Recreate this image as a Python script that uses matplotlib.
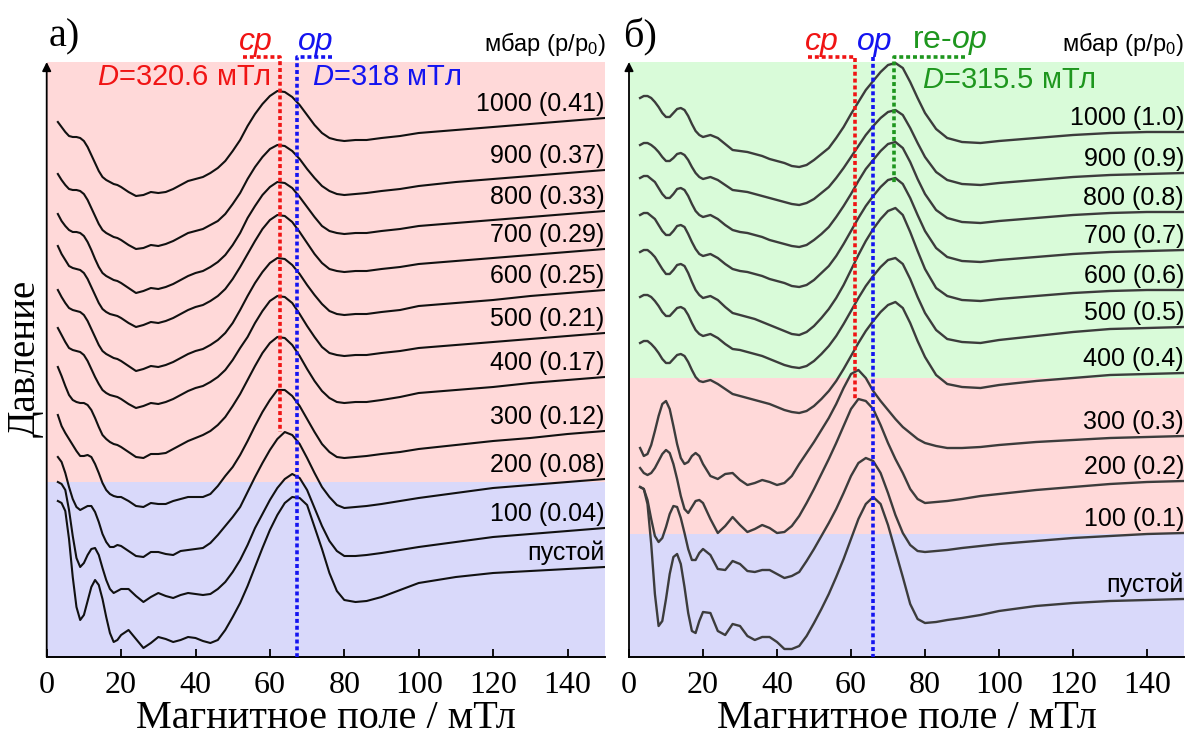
import matplotlib
matplotlib.use('Agg')
import matplotlib.pyplot as plt

SERIF = 'Liberation Serif'
SANS = 'Liberation Sans'
plt.rcParams['font.family'] = SANS
plt.rcParams['mathtext.fontset'] = 'custom'
plt.rcParams['mathtext.rm'] = SANS
plt.rcParams['mathtext.it'] = SANS + ':italic'

PINK_BG = '#ffd9d9'
BLUE_BG = '#d9d9fa'
GREEN_BG = '#d9fbd9'
RED = '#f01414'
BLUE = '#1414f0'
GREEN = '#1e961e'

W, H = 1186, 736

# magnetic field grid (mT), shared by every spectrum
field = [3, 4, 5, 6, 7, 8, 9, 10, 11, 12, 13, 14, 15, 16, 17, 18, 19, 20,
         22, 24, 26, 28, 30, 32, 34, 36, 38, 40, 42, 44, 46, 48, 50, 52, 54,
         56, 58, 60, 62, 64, 66, 68, 70, 72, 74, 76, 78,
         80, 83, 86, 90, 95, 100, 110, 120, 130, 140, 150]

# ---- panel a ----
labels_a = ['1000 (0.41)', '900 (0.37)', '800 (0.33)', '700 (0.29)', '600 (0.25)',
            '500 (0.21)', '400 (0.17)', '300 (0.12)', '200 (0.08)', '100 (0.04)', 'пустой']
offsets_a = [539, 487, 446, 408, 367, 324, 280, 226, 178, 129, 90]

a_1000 = [-4, -9, -14, -18, -19, -19, -20, -23, -29, -37, -45, -53, -59, -62, -64, -66, -67, -69,
          -74, -78, -77, -74, -75, -74, -71, -67, -63, -61, -59, -55, -50, -43, -33, -22, -8,
          4, 14, 22, 27, 26, 21, 13, 3, -7, -15, -20, -22,
          -23, -22, -22, -20, -18, -15, -12, -9, -6, -3, 0]
a_900 = [-4, -10, -15, -19, -20, -20, -21, -24, -30, -38, -46, -54, -60, -63, -65, -67, -68, -70,
         -75, -79, -78, -75, -76, -74, -71, -67, -63, -61, -59, -55, -51, -44, -34, -23, -9,
         3, 13, 21, 25, 24, 19, 11, 1, -8, -16, -21, -24,
         -25, -24, -23, -21, -19, -16, -12, -9, -6, -3, 0]
a_800 = [-3, -10, -15, -19, -21, -21, -22, -25, -31, -39, -48, -56, -62, -65, -67, -69, -70, -72,
         -77, -82, -80, -77, -78, -76, -73, -69, -65, -62, -60, -56, -51, -44, -34, -22, -7,
         5, 16, 24, 29, 28, 23, 14, 4, -6, -15, -20, -22,
         -23, -22, -22, -20, -18, -15, -12, -9, -6, -3, 0]
a_700 = [3, -5, -11, -17, -19, -20, -21, -24, -30, -38, -46, -54, -60, -63, -65, -66, -67, -69,
         -74, -78, -76, -73, -74, -72, -69, -65, -61, -58, -56, -52, -47, -40, -30, -18, -5,
         8, 20, 29, 34, 33, 27, 17, 6, -5, -14, -20, -22,
         -23, -22, -22, -20, -18, -15, -12, -9, -6, -3, 0]
a_600 = [0, -7, -13, -18, -20, -21, -22, -25, -31, -39, -47, -55, -61, -64, -66, -68, -69, -71,
         -76, -81, -79, -76, -77, -75, -72, -68, -64, -61, -59, -55, -50, -43, -33, -20, -6,
         7, 18, 27, 32, 31, 25, 16, 5, -5, -14, -21, -24,
         -25, -24, -24, -22, -20, -16, -13, -10, -6, -3, 0]
a_500 = [5, -2, -9, -15, -17, -18, -19, -22, -28, -36, -44, -51, -57, -60, -62, -63, -64, -66,
         -71, -75, -73, -70, -71, -69, -66, -62, -58, -55, -53, -49, -44, -37, -27, -15, -4,
         10, 22, 32, 37, 36, 30, 19, 7, -4, -14, -20, -22,
         -23, -22, -22, -20, -18, -15, -12, -9, -6, -3, 0]
a_400 = [10, 1, -9, -18, -23, -25, -26, -26, -28, -33, -41, -50, -58, -62, -65, -67, -68, -70,
         -75, -80, -81, -77, -77, -76, -72, -68, -64, -61, -58, -54, -48, -40, -29, -17, -3,
         11, 24, 34, 40, 39, 32, 21, 8, -4, -14, -21, -25,
         -26, -25, -25, -23, -20, -16, -13, -10, -6, -3, 0]
a_300 = [16, 5, -2, -8, -14, -20, -25, -25, -24, -26, -33, -42, -52, -59, -63, -65, -66, -66,
         -70, -75, -76, -72, -73, -73, -70, -68, -66, -66, -66, -63, -55, -45, -36, -24, -10,
         5, 19, 31, 41, 41, 35, 25, 12, -1, -13, -21, -26,
         -27, -26, -25, -23, -21, -18, -14, -10, -7, -3, 0]
a_200 = [22, 17, 6, -8, -20, -28, -31, -29, -27, -27, -33, -43, -55, -63, -68, -68, -66, -67,
         -72, -77, -78, -73, -73, -75, -76, -72, -71, -70, -69, -64, -56, -47, -38, -28, -13,
         2, 16, 29, 40, 47, 44, 35, 21, 6, -8, -18, -26,
         -29, -28, -27, -25, -22, -19, -14, -9, -6, -3, 0]
a_100 = [46, 44, 38, 18, -8, -30, -39, -35, -27, -21, -20, -27, -40, -52, -61, -65, -63, -61,
         -61, -68, -74, -69, -65, -68, -70, -67, -65, -66, -67, -66, -61, -54, -44, -32, -17,
         0, 14, 28, 40, 49, 54, 50, 38, 20, 2, -13, -23,
         -28, -28, -27, -25, -22, -19, -14, -9, -6, -3, 0]
a_empty = [66, 64, 56, 28, -10, -40, -53, -48, -34, -20, -13, -18, -32, -50, -66, -75, -73, -68,
           -63, -72, -81, -76, -70, -72, -75, -73, -70, -71, -74, -76, -73, -63, -50, -36, -19,
           0, 19, 37, 52, 64, 70, 69, 62, 40, 18, -6, -24,
           -33, -35, -34, -30, -23, -16, -10, -6, -4, -2, 0]
spectra_a = [a_1000, a_900, a_800, a_700, a_600, a_500, a_400, a_300, a_200, a_100, a_empty]

# ---- panel b ----
labels_b = ['1000 (1.0)', '900 (0.9)', '800 (0.8)', '700 (0.7)', '600 (0.6)',
            '500 (0.5)', '400 (0.4)', '300 (0.3)', '200 (0.2)', '100 (0.1)', 'пустой']
offsets_b = [525, 484, 445, 407, 367, 330, 284, 221, 176, 124, 58]

b_1000 = [34, 36, 36, 34, 30, 25, 19, 15, 15, 19, 23, 24, 22, 16, 8, 1, -3, -5,
          -3, -6, -12, -18, -19, -20, -22, -24, -27, -29, -31, -34, -35, -33, -28, -22, -16,
          -6, 5, 18, 30, 42, 51, 60, 67, 69, 64, 50, 34,
          19, 3, -6, -10, -11, -9, -6, -3, -1, 0, 0]
b_900 = [28, 30, 30, 28, 25, 21, 16, 12, 12, 15, 19, 20, 18, 13, 6, 0, -4, -6,
         -4, -7, -12, -17, -18, -19, -21, -23, -25, -27, -29, -31, -32, -30, -26, -20, -14,
         -5, 5, 16, 27, 38, 47, 55, 61, 63, 58, 45, 30,
         16, 1, -7, -11, -12, -10, -7, -4, -2, -1, 0]
b_800 = [34, 36, 36, 33, 30, 24, 18, 14, 14, 18, 23, 24, 22, 16, 8, 1, -3, -5,
         -3, -7, -13, -18, -20, -21, -23, -25, -28, -30, -32, -34, -35, -33, -28, -22, -15,
         -5, 6, 18, 31, 43, 52, 61, 68, 70, 64, 50, 33,
         18, 2, -6, -10, -11, -9, -6, -3, -1, 0, 0]
b_700 = [35, 37, 37, 34, 31, 25, 19, 15, 15, 19, 24, 25, 23, 16, 8, 1, -4, -6,
         -4, -8, -14, -19, -21, -22, -24, -26, -29, -31, -33, -36, -37, -35, -30, -23, -16,
         -6, 6, 19, 32, 44, 54, 63, 70, 72, 66, 52, 35,
         19, 2, -7, -11, -12, -10, -7, -4, -2, -1, 0]
b_600 = [38, 40, 40, 37, 33, 27, 21, 16, 16, 20, 25, 26, 24, 17, 8, 0, -5, -8,
         -6, -10, -17, -23, -25, -27, -29, -32, -35, -38, -41, -44, -45, -42, -36, -28, -19,
         -8, 5, 20, 35, 49, 61, 71, 79, 82, 75, 58, 39,
         21, 2, -6, -10, -11, -9, -6, -3, -1, 0, 0]
b_500 = [30, 32, 32, 30, 26, 21, 15, 11, 11, 15, 19, 20, 18, 12, 4, -3, -7, -9,
         -7, -11, -17, -22, -23, -25, -27, -29, -32, -35, -38, -40, -41, -39, -34, -27, -19,
         -9, 3, 16, 29, 41, 51, 60, 67, 69, 63, 48, 30,
         14, -3, -12, -15, -16, -13, -9, -5, -2, -1, 0]
b_400 = [30, 32, 32, 29, 25, 20, 14, 10, 10, 14, 18, 19, 17, 11, 3, -4, -8, -9,
         -7, -11, -16, -21, -23, -25, -27, -29, -31, -34, -37, -39, -40, -38, -33, -26, -18,
         -8, 4, 17, 30, 42, 52, 61, 68, 71, 65, 50, 32,
         16, -2, -11, -14, -15, -12, -8, -5, -2, -1, 0]
b_300 = [-12, -20, -18, -9, 5, 20, 32, 35, 27, 10, -8, -22, -28, -26, -20, -17, -20, -28,
         -40, -43, -38, -37, -44, -49, -47, -44, -46, -49, -47, -40, -28, -17, -6, 6, 18,
         32, 48, 62, 66, 58, 45, 35, 26, 17, 9, 3, -3,
         -7, -10, -12, -12, -11, -9, -6, -4, -2, -1, 0]
b_200 = [13, 8, 6, 8, 13, 20, 27, 31, 28, 17, 2, -15, -28, -32, -26, -20, -19, -22,
         -38, -52, -45, -36, -44, -51, -48, -44, -47, -52, -51, -45, -35, -22, -8, 7, 22,
         38, 55, 72, 82, 80, 72, 56, 38, 22, 8, -8, -18,
         -22, -21, -20, -18, -15, -13, -9, -6, -3, -1, 0]
b_100 = [46, 44, 33, 14, -3, -9, -5, 6, 19, 27, 26, 15, 0, -16, -27, -27, -20, -16,
         -22, -36, -37, -28, -31, -38, -39, -37, -37, -41, -45, -43, -39, -28, -16, -3, 10,
         24, 40, 57, 70, 75, 72, 60, 40, 18, 0, -12, -18,
         -19, -18, -17, -15, -13, -11, -8, -5, -3, -1, 0]
b_empty = [112, 110, 95, 55, 5, -27, -22, 0, 25, 42, 45, 35, 12, -14, -32, -34, -22, -13,
           -14, -32, -36, -25, -27, -37, -41, -38, -38, -43, -50, -50, -47, -37, -24, -10, 5,
           22, 40, 60, 80, 95, 102, 95, 74, 48, 22, -5, -20,
           -24, -23, -21, -19, -16, -12, -7, -4, -2, -1, 0]
spectra_b = [b_1000, b_900, b_800, b_700, b_600, b_500, b_400, b_300, b_200, b_100, b_empty]

# shaded pressure regimes (same vertical units as the stacked spectra)
bands_a = [(175, 595, PINK_BG), (0, 175, BLUE_BG)]
bands_b = [(279, 595, GREEN_BG), (123, 279, PINK_BG), (0, 123, BLUE_BG)]

# resonance markers: (field, lower end, colour, bracket start field)
markers_a = [(62.6, 225, RED, 52.8), (67.3, 0, BLUE, 76.8)]
markers_b = [(61.1, 257, RED, 48.4), (65.9, 0, BLUE, None), (71.6, 474, GREEN, 90.8)]

XMAX = 150
YMAX = 595
TOP = 600


def px(x, y):
    return x / W, 1 - y / H


def draw_panel(ax, spectra, offsets, labels, bands, markers, color, lw):
    for lo, hi, c in bands:
        ax.axhspan(lo, hi, color=c, lw=0, zorder=0)
    for spec, off, lab in zip(spectra, offsets, labels):
        ax.plot(field, [off + v for v in spec], color=color, lw=lw, zorder=2,
                solid_joinstyle='round')
        ax.text(XMAX, off + 14, lab, ha='right', va='center', fontsize=18,
                family=SANS, zorder=4)
    for x, y_end, c, x_br in markers:
        xs, ys = [x, x], [TOP, y_end]
        if x_br is not None:
            xs, ys = [x_br, x, x], [TOP, TOP, y_end]
        ax.plot(xs, ys, color=c, lw=2.6, ls=(0, (1.1, 0.8)), clip_on=False,
                dash_capstyle='butt', zorder=3)

    ax.set_xlim(0, XMAX)
    ax.set_ylim(0, YMAX)
    ax.set_xticks(range(0, 141, 20))
    ax.set_yticks([])
    for s in ('top', 'right', 'left'):
        ax.spines[s].set_visible(False)
    ax.spines['bottom'].set_linewidth(1.4)
    ax.tick_params(axis='x', direction='in', length=6, width=1.3, pad=10,
                   labelsize=23)
    for t in ax.get_xticklabels():
        t.set_family(SERIF)
    ax.annotate('', xy=(0, 1.0), xytext=(0, 0), xycoords='axes fraction',
                arrowprops=dict(arrowstyle='-|>', lw=1.3, color='k',
                                mutation_scale=13, shrinkA=0, shrinkB=0))
    ax.set_xlabel('Магнитное поле / мТл', family=SERIF, fontsize=29, labelpad=0)


fig = plt.figure(figsize=(W / 100, H / 100), dpi=100)
ax_a = fig.add_axes([46.7 / W, 79 / H, 558 / W, 595 / H])
ax_b = fig.add_axes([629 / W, 79 / H, 555 / W, 595 / H])

draw_panel(ax_a, spectra_a, offsets_a, labels_a, bands_a, markers_a, '#111111', 1.5)
draw_panel(ax_b, spectra_b, offsets_b, labels_b, bands_b, markers_b, '#3c3c3c', 1.7)

# panel captions and annotations
fig.text(*px(64, 37), 'а)', family=SERIF, fontsize=29, ha='center', va='center')
fig.text(*px(640, 37), 'б)', family=SERIF, fontsize=29, ha='center', va='center')
for xr in (606, 1184):
    fig.text(*px(xr, 44), 'мбар (p/p$_0$)', fontsize=17, ha='right', va='center')

fig.text(*px(256, 42), 'cp', color=RED, style='italic', fontsize=23, ha='center', va='center')
fig.text(*px(316, 42), 'op', color=BLUE, style='italic', fontsize=23, ha='center', va='center')
fig.text(*px(97, 77), '$D$=320.6 мТл', color=RED, fontsize=21, ha='left', va='center')
fig.text(*px(312, 77), '$D$=318 мТл', color=BLUE, fontsize=21, ha='left', va='center')

fig.text(*px(822, 42), 'cp', color=RED, style='italic', fontsize=23, ha='center', va='center')
fig.text(*px(875, 42), 'op', color=BLUE, style='italic', fontsize=23, ha='center', va='center')
fig.text(*px(950, 42), 're-$op$', color=GREEN, fontsize=23, ha='center', va='center')
fig.text(*px(922, 80), '$D$=315.5 мТл', color=GREEN, fontsize=21, ha='left', va='center')

fig.text(*px(25, 358), 'Давление', family=SERIF, fontsize=28, rotation=90,
         ha='center', va='center')

fig.savefig('out.png', dpi=100)
